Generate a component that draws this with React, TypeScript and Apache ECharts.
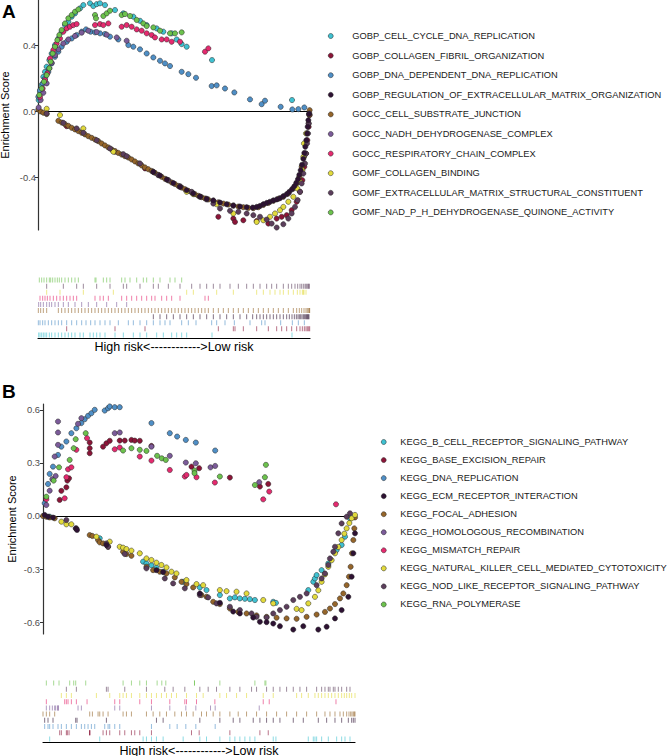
import { useEffect, useRef } from "react";
import * as echarts from "echarts";

const FONT = '"Liberation Sans", Arial, Helvetica, sans-serif';

const NAMES_A = [
  "GOBP_CELL_CYCLE_DNA_REPLICATION",
  "GOBP_COLLAGEN_FIBRIL_ORGANIZATION",
  "GOBP_DNA_DEPENDENT_DNA_REPLICATION",
  "GOBP_REGULATION_OF_EXTRACELLULAR_MATRIX_ORGANIZATION",
  "GOCC_CELL_SUBSTRATE_JUNCTION",
  "GOCC_NADH_DEHYDROGENASE_COMPLEX",
  "GOCC_RESPIRATORY_CHAIN_COMPLEX",
  "GOMF_COLLAGEN_BINDING",
  "GOMF_EXTRACELLULAR_MATRIX_STRUCTURAL_CONSTITUENT",
  "GOMF_NAD_P_H_DEHYDROGENASE_QUINONE_ACTIVITY",
];

const NAMES_B = [
  "KEGG_B_CELL_RECEPTOR_SIGNALING_PATHWAY",
  "KEGG_BASE_EXCISION_REPAIR",
  "KEGG_DNA_REPLICATION",
  "KEGG_ECM_RECEPTOR_INTERACTION",
  "KEGG_FOCAL_ADHESION",
  "KEGG_HOMOLOGOUS_RECOMBINATION",
  "KEGG_MISMATCH_REPAIR",
  "KEGG_NATURAL_KILLER_CELL_MEDIATED_CYTOTOXICITY",
  "KEGG_NOD_LIKE_RECEPTOR_SIGNALING_PATHWAY",
  "KEGG_RNA_POLYMERASE",
];

const COLORS = [
  "#3fc1d1",
  "#8b1538",
  "#4f8fc6",
  "#2e1233",
  "#95652a",
  "#7b5b99",
  "#e52a6f",
  "#e2da3c",
  "#5c3e5c",
  "#6cc24d",
];

const RANK_MAX_A = 816;
const RANK_MAX_B = 935;
const Y_RANGE_A = [-0.72, 0.673];
const Y_RANGE_B = [-0.667, 0.633];
const TICKS_A = [-0.4, 0, 0.4];
const TICKS_B = [-0.6, -0.3, 0, 0.3, 0.6];
const RUG_LABEL = "High risk<------------>Low risk";

// ---------- Panel A: [rank, enrichment score] ----------
const A_CELL_CYCLE = [
  [2, 0.067], [6, 0.117], [11, 0.158], [16, 0.208], [21, 0.238], [26, 0.269], [34, 0.309],
  [41, 0.349], [51, 0.4], [61, 0.44], [71, 0.481], [81, 0.521], [91, 0.541], [101, 0.572],
  [111, 0.592], [126, 0.622], [136, 0.642], [156, 0.653], [166, 0.636], [176, 0.648],
  [186, 0.653], [201, 0.642], [231, 0.612], [256, 0.592], [286, 0.572], [306, 0.547],
  [326, 0.521], [356, 0.501], [376, 0.481], [401, 0.471], [416, 0.434], [431, 0.406],
  [446, 0.39], [522, 0.309], [762, 0.067],
];
const A_COLLAGEN_FIBRIL = [
  [86, -0.091], [231, -0.246], [321, -0.347], [541, -0.64], [586, -0.651], [591, -0.671],
  [616, -0.661], [656, -0.665], [691, -0.681], [716, -0.651], [731, -0.64], [746, -0.63],
  [761, -0.6], [776, -0.549], [786, -0.489], [793, -0.418], [799, -0.337], [804, -0.257],
  [808, -0.176], [812, -0.095], [815, -0.024],
];
const A_DNA_DEP = [
  [1, 0.087], [6, 0.127], [14, 0.168], [21, 0.198], [31, 0.238], [41, 0.289], [51, 0.329],
  [61, 0.36], [71, 0.39], [86, 0.42], [101, 0.44], [116, 0.461], [131, 0.481], [144, 0.495],
  [158, 0.481], [171, 0.477], [186, 0.471], [201, 0.467], [216, 0.451], [241, 0.434],
  [271, 0.4], [286, 0.39], [306, 0.374], [326, 0.349], [346, 0.325], [366, 0.305],
  [381, 0.289], [396, 0.273], [431, 0.238], [451, 0.224], [474, 0.202], [521, 0.152],
  [536, 0.156], [561, 0.137], [589, 0.113], [636, 0.071], [671, 0.042], [681, 0.063],
  [728, 0.026], [763, 0.01], [781, 0.012], [799, 0.022],
];
const A_REG_ECM = [
  [346, -0.368], [366, -0.39], [386, -0.414], [406, -0.436], [426, -0.459], [446, -0.479],
  [466, -0.499], [486, -0.517], [506, -0.531], [526, -0.541], [546, -0.554], [566, -0.564],
  [586, -0.572], [606, -0.578], [626, -0.582], [644, -0.584], [656, -0.58], [666, -0.574],
  [676, -0.564], [686, -0.556], [696, -0.549], [706, -0.541], [716, -0.535], [726, -0.527],
  [736, -0.515], [746, -0.503], [754, -0.489], [762, -0.473], [769, -0.455], [775, -0.434],
  [780, -0.412], [784, -0.386], [788, -0.358], [792, -0.325], [796, -0.289], [799, -0.253],
  [802, -0.216], [805, -0.176], [807, -0.135], [809, -0.095], [811, -0.055], [813, -0.018],
];
const A_CELL_SUBSTRATE = [
  [1, 0.01], [8, -0.002], [16, -0.01], [26, -0.018], [61, -0.059], [71, -0.069], [81, -0.079],
  [91, -0.089], [101, -0.101], [111, -0.111], [121, -0.121], [131, -0.131], [141, -0.141],
  [151, -0.152], [161, -0.162], [171, -0.172], [181, -0.182], [191, -0.196], [201, -0.208],
  [211, -0.22], [221, -0.232], [231, -0.242], [241, -0.253], [251, -0.263], [261, -0.273],
  [271, -0.281], [281, -0.293], [291, -0.305], [301, -0.317], [311, -0.329], [321, -0.341],
  [331, -0.352], [341, -0.362], [351, -0.374], [361, -0.386], [371, -0.398], [381, -0.41],
  [391, -0.42], [401, -0.432], [411, -0.442], [421, -0.453], [431, -0.463], [441, -0.473],
  [451, -0.483], [461, -0.493], [471, -0.503], [481, -0.513], [491, -0.521], [501, -0.529],
  [511, -0.535], [526, -0.543], [541, -0.552], [556, -0.56], [571, -0.566], [586, -0.572],
  [601, -0.578], [616, -0.582], [631, -0.586], [646, -0.588], [661, -0.582], [676, -0.568],
  [691, -0.556], [706, -0.543], [721, -0.531], [736, -0.519], [751, -0.499], [766, -0.469],
  [776, -0.438], [784, -0.398], [791, -0.337], [798, -0.277], [804, -0.196], [808, -0.135],
  [812, -0.075], [814, -0.024], [815, 0.006],
];
const A_NADH = [
  [2, 0.022], [8, 0.067], [16, 0.111], [26, 0.168], [34, 0.259], [41, 0.293], [51, 0.339],
  [61, 0.374], [76, 0.41], [91, 0.434], [111, 0.455], [131, 0.475], [151, 0.487],
  [176, 0.479], [206, 0.463], [236, 0.446], [266, 0.426],
];
const A_RESPIRATORY = [
  [6, 0.087], [14, 0.137], [21, 0.188], [28, 0.228], [36, 0.319], [46, 0.37], [56, 0.41],
  [66, 0.44], [76, 0.481], [86, 0.501], [96, 0.511], [106, 0.521], [116, 0.527], [171, 0.521],
  [186, 0.527], [196, 0.521], [211, 0.531], [251, 0.511], [266, 0.521], [281, 0.511],
  [296, 0.495], [311, 0.487], [326, 0.471], [341, 0.461], [351, 0.446], [371, 0.434],
  [386, 0.434], [401, 0.42], [426, 0.42], [501, 0.36], [511, 0.38],
];
const A_COLLAGEN_BINDING = [
  [26, 0.014], [66, -0.024], [136, -0.105], [226, -0.246], [446, -0.489], [466, -0.503],
  [536, -0.564], [586, -0.62], [656, -0.671], [676, -0.661], [696, -0.64], [711, -0.62],
  [726, -0.6], [736, -0.58], [751, -0.549], [766, -0.519], [778, -0.469], [786, -0.428],
  [793, -0.358], [796, -0.277], [798, -0.196], [804, -0.135],
];
const A_GOMF_ECM = [
  [26, -0.014], [76, -0.071], [116, -0.105], [136, -0.131], [176, -0.176], [216, -0.226],
  [256, -0.261], [266, -0.273], [306, -0.317], [346, -0.368], [361, -0.388], [391, -0.418],
  [426, -0.455], [461, -0.489], [486, -0.519], [506, -0.535], [526, -0.56], [546, -0.59],
  [576, -0.604], [601, -0.61], [626, -0.62], [646, -0.63], [666, -0.64], [686, -0.657],
  [701, -0.681], [716, -0.705], [736, -0.685], [751, -0.651], [761, -0.62], [771, -0.58],
  [779, -0.539], [786, -0.489], [791, -0.438], [796, -0.378], [801, -0.317], [804, -0.257],
  [807, -0.196], [810, -0.135], [812, -0.075], [814, -0.014],
];
const A_NADPH = [
  [4, 0.097], [11, 0.137], [18, 0.178], [26, 0.218], [34, 0.259], [38, 0.299], [44, 0.349],
  [51, 0.39], [58, 0.43], [64, 0.461], [71, 0.491], [81, 0.531], [91, 0.562], [101, 0.582],
  [111, 0.602], [121, 0.616], [171, 0.582], [174, 0.562], [196, 0.576], [206, 0.592],
  [216, 0.608], [251, 0.582], [261, 0.588], [276, 0.576], [296, 0.552], [316, 0.531],
  [326, 0.515], [346, 0.507], [366, 0.487], [396, 0.471], [411, 0.471], [431, 0.477],
];

// ---------- Panel B: [rank, enrichment score] ----------
const B_B_CELL = [
  [20, -0.004], [170, -0.126], [300, -0.258], [310, -0.268], [325, -0.279], [340, -0.292],
  [360, -0.315], [420, -0.372], [470, -0.404], [490, -0.419], [530, -0.447], [560, -0.466],
  [575, -0.46], [590, -0.466], [605, -0.468], [620, -0.47], [635, -0.475], [690, -0.485],
  [698, -0.491], [795, -0.419], [810, -0.372], [815, -0.353], [820, -0.334], [835, -0.306],
  [855, -0.268], [880, -0.192], [895, -0.164], [905, -0.117], [920, -0.013],
];
const B_BASE_EXCISION = [
  [50, 0.091], [55, 0.142], [70, 0.162], [73, 0.2], [78, 0.213], [140, 0.355], [140, 0.383],
  [140, 0.415], [180, 0.392], [190, 0.411], [200, 0.425], [230, 0.426], [245, 0.426],
  [265, 0.43], [275, 0.426], [290, 0.425], [325, 0.396], [445, 0.279], [468, 0.27],
  [560, 0.217], [650, 0.166], [675, 0.181],
];
const B_DNA_REPLICATION = [
  [5, 0.072], [15, 0.181], [20, 0.238], [30, 0.279], [45, 0.345], [55, 0.392], [70, 0.421],
  [85, 0.468], [100, 0.496], [115, 0.525], [125, 0.547], [135, 0.566], [145, 0.581],
  [155, 0.6], [185, 0.596], [195, 0.609], [200, 0.619], [215, 0.615], [230, 0.615],
  [325, 0.525], [380, 0.468], [402, 0.449], [428, 0.43], [458, 0.415], [516, 0.37],
];
const B_ECM = [
  [5, 0.006], [15, -0.004], [30, -0.009], [98, -0.07], [102, -0.079], [190, -0.164],
  [340, -0.306], [360, -0.317], [470, -0.438], [530, -0.491], [570, -0.54], [590, -0.551],
  [630, -0.574], [650, -0.598], [670, -0.6], [690, -0.608], [710, -0.623], [750, -0.642],
  [780, -0.623], [825, -0.642], [850, -0.626], [875, -0.579], [895, -0.532], [915, -0.457],
  [925, -0.343], [930, -0.211], [935, -0.098],
];
const B_FOCAL = [
  [0, 0.0], [10, -0.004], [20, -0.008], [35, -0.013], [140, -0.108], [148, -0.113],
  [165, -0.136], [170, -0.149], [180, -0.155], [195, -0.174], [240, -0.202], [250, -0.215],
  [265, -0.225], [310, -0.287], [330, -0.306], [350, -0.315], [370, -0.325], [395, -0.347],
  [415, -0.372], [430, -0.385], [450, -0.404], [475, -0.447], [490, -0.457], [510, -0.485],
  [530, -0.498], [560, -0.523], [585, -0.542], [610, -0.551], [640, -0.562], [670, -0.57],
  [700, -0.575], [730, -0.579], [760, -0.581], [790, -0.57], [820, -0.557], [845, -0.542],
  [860, -0.523], [875, -0.498], [890, -0.466], [900, -0.438], [910, -0.391], [917, -0.343],
  [922, -0.287], [926, -0.211], [930, -0.136], [933, -0.07], [935, -0.008],
];
const B_HOMOLOGOUS = [
  [10, 0.062], [20, 0.143], [28, 0.208], [35, 0.336], [38, 0.226], [45, 0.402], [45, 0.472],
  [45, 0.534], [105, 0.521], [115, 0.553], [215, 0.468], [230, 0.472], [325, 0.392],
  [380, 0.34], [428, 0.302], [458, 0.298], [502, 0.275], [516, 0.283], [648, 0.191],
];
const B_MISMATCH = [
  [10, 0.094], [65, 0.1], [70, 0.219], [75, 0.264], [85, 0.275], [100, 0.374], [132, 0.44],
  [215, 0.377], [230, 0.387], [290, 0.336], [325, 0.313], [380, 0.26], [425, 0.223],
  [430, 0.232], [460, 0.219], [515, 0.189], [660, 0.094], [678, 0.138], [878, 0.066],
];
const B_NK = [
  [55, -0.032], [70, -0.047], [85, -0.047], [160, -0.117], [200, -0.145], [230, -0.174],
  [240, -0.179], [250, -0.187], [265, -0.196], [290, -0.211], [310, -0.24], [325, -0.249],
  [340, -0.264], [355, -0.277], [370, -0.291], [385, -0.315], [400, -0.325], [430, -0.362],
  [460, -0.385], [480, -0.391], [530, -0.419], [550, -0.425], [580, -0.428], [610, -0.438],
  [660, -0.475], [690, -0.494], [760, -0.525], [775, -0.532], [795, -0.494], [815, -0.457],
  [825, -0.42], [835, -0.372], [845, -0.33], [855, -0.287], [865, -0.25], [875, -0.211],
  [885, -0.175], [895, -0.136], [903, -0.1], [910, -0.07], [918, -0.04], [925, -0.013],
  [935, 0.006],
];
const B_NOD_LIKE = [
  [70, -0.023], [100, -0.07], [190, -0.155], [195, -0.174], [245, -0.215], [310, -0.296],
  [365, -0.353], [390, -0.381], [425, -0.409], [470, -0.447], [495, -0.46], [520, -0.494],
  [560, -0.513], [590, -0.532], [625, -0.551], [640, -0.57], [670, -0.574], [690, -0.551],
  [710, -0.532], [730, -0.513], [750, -0.475], [770, -0.457], [790, -0.438], [820, -0.391],
  [835, -0.353], [845, -0.325], [855, -0.277], [860, -0.24], [870, -0.202], [875, -0.174],
  [885, -0.098], [895, -0.042], [910, -0.004], [920, 0.015],
];
const B_RNA_POLYMERASE = [
  [10, 0.109], [32, 0.2], [48, 0.275], [80, 0.317], [92, 0.383], [98, 0.434], [128, 0.468],
  [240, 0.37], [265, 0.383], [290, 0.374], [310, 0.368], [342, 0.34], [356, 0.326],
  [368, 0.317], [454, 0.257], [454, 0.242], [530, 0.223], [635, 0.175], [665, 0.219],
  [668, 0.289],
];

const DATA_A = [
  A_CELL_CYCLE, A_COLLAGEN_FIBRIL, A_DNA_DEP, A_REG_ECM, A_CELL_SUBSTRATE,
  A_NADH, A_RESPIRATORY, A_COLLAGEN_BINDING, A_GOMF_ECM, A_NADPH,
];
const DATA_B = [
  B_B_CELL, B_BASE_EXCISION, B_DNA_REPLICATION, B_ECM, B_FOCAL,
  B_HOMOLOGOUS, B_MISMATCH, B_NK, B_NOD_LIKE, B_RNA_POLYMERASE,
];

function esSeries(names: string[], data: number[][][], axis: number) {
  return names.map((name, i) => ({
    type: "scatter",
    name,
    xAxisIndex: axis,
    yAxisIndex: axis,
    data: data[i],
    symbolSize: 5.2,
    z: i === 3 ? 3 : 2,
    itemStyle: { color: COLORS[i], borderColor: "#222", borderWidth: 0.5, opacity: 1 },
    emphasis: { disabled: true },
  }));
}

function rugSeries(name: string, data: number[][][], axis: number) {
  const pts: any[] = [];
  data.forEach((s, i) =>
    s.forEach((p) => pts.push({ value: [p[0], i], itemStyle: { color: COLORS[i], opacity: 0.6 } }))
  );
  return {
    type: "scatter",
    name,
    xAxisIndex: axis,
    yAxisIndex: axis,
    data: pts,
    symbol: "rect",
    symbolSize: [1, 5],
    silent: true,
    emphasis: { disabled: true },
  };
}

function esYAxis(grid: number, range: number[], ticks: number[], nameGap: number, margin: number) {
  return {
    type: "value",
    gridIndex: grid,
    min: range[0],
    max: range[1],
    name: "Enrichment Score",
    nameLocation: "middle",
    nameGap,
    nameTextStyle: { fontSize: 11, color: "#000", fontFamily: FONT },
    axisLine: { show: true, lineStyle: { color: "#333", width: 1.2 } },
    axisTick: { show: true, length: 3, customValues: ticks, lineStyle: { color: "#333" } },
    axisLabel: {
      show: true,
      customValues: ticks,
      margin,
      fontSize: 9.4,
      color: "#4d4d4d",
      fontFamily: FONT,
      formatter: (v: number) => v.toFixed(1),
    },
    splitLine: { show: false },
  };
}

function esXAxis(grid: number, max: number) {
  return {
    type: "value",
    gridIndex: grid,
    min: 0,
    max,
    axisLine: { show: true, onZero: true, lineStyle: { color: "#000", width: 1.2 } },
    axisTick: { show: false },
    axisLabel: { show: false },
    splitLine: { show: false },
  };
}

function rugXAxis(grid: number, max: number) {
  return {
    type: "value",
    gridIndex: grid,
    min: 0,
    max,
    position: "bottom",
    name: RUG_LABEL,
    nameLocation: "middle",
    nameGap: 2,
    nameTextStyle: { fontSize: 12.5, color: "#000", fontFamily: FONT, verticalAlign: "top" },
    axisLine: { show: true, onZero: false, lineStyle: { color: "#000", width: 1.2 } },
    axisTick: { show: false },
    axisLabel: { show: false },
    splitLine: { show: false },
  };
}

function rugYAxis(grid: number) {
  return { type: "value", gridIndex: grid, min: -0.5, max: 9.5, show: false };
}

function legendFor(names: string[], left: number, top: number, gap: number, pad: number) {
  return {
    data: names,
    orient: "vertical",
    left,
    top,
    icon: "circle",
    itemWidth: 5,
    itemHeight: 5,
    itemGap: gap,
    selectedMode: false,
    itemStyle: { borderWidth: 0.5, borderColor: "#222" },
    textStyle: {
      fontSize: 9.3,
      lineHeight: 10,
      color: "#1a1a1a",
      fontFamily: FONT,
      padding: [0, 0, 0, pad],
    },
  };
}

export default function App() {
  const ref = useRef<HTMLDivElement>(null);
  useEffect(() => {
    if (!ref.current) return;
    const chart = echarts.init(ref.current, undefined, { renderer: "svg" });
    chart.setOption({
      animation: false,
      backgroundColor: "#fff",
      textStyle: { fontFamily: FONT },
      grid: [
        { left: 38, top: 0, width: 272, height: 230, outerBoundsMode: "none" },
        { left: 38, top: 277, width: 272, height: 61, outerBoundsMode: "none" },
        { left: 43, top: 404, width: 312, height: 230, outerBoundsMode: "none" },
        { left: 43, top: 680, width: 312, height: 62, outerBoundsMode: "none" },
      ],
      xAxis: [esXAxis(0, RANK_MAX_A), rugXAxis(1, RANK_MAX_A), esXAxis(2, RANK_MAX_B), rugXAxis(3, RANK_MAX_B)],
      yAxis: [
        esYAxis(0, Y_RANGE_A, TICKS_A, 28, 2),
        rugYAxis(1),
        esYAxis(2, Y_RANGE_B, TICKS_B, 26, 3),
        rugYAxis(3),
      ],
      legend: [legendFor(NAMES_A, 323, 26, 9.6, 14), legendFor(NAMES_B, 376, 432, 8.05, 9)],
      graphic: [
        { type: "text", left: 2, top: 2, style: { text: "A", fontSize: 19, fontWeight: "bold", fill: "#000", fontFamily: FONT } },
        { type: "text", left: 2, top: 382, style: { text: "B", fontSize: 19, fontWeight: "bold", fill: "#000", fontFamily: FONT } },
      ],
      series: [
        ...esSeries(NAMES_A, DATA_A, 0),
        rugSeries("rugA", DATA_A, 1),
        ...esSeries(NAMES_B, DATA_B, 2),
        rugSeries("rugB", DATA_B, 3),
      ],
    });
    return () => chart.dispose();
  }, []);
  return (
    <div
      ref={ref}
      style={{ position: "absolute", left: 0, top: 0, width: 671, height: 756, background: "#fff" }}
    />
  );
}
